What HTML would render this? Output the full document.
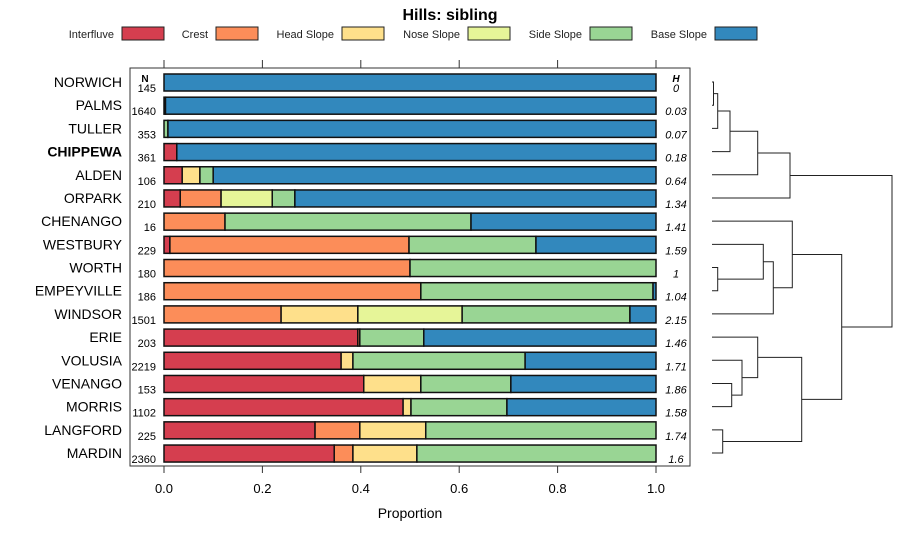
<!DOCTYPE html>
<html><head><meta charset="utf-8">
<style>
body{margin:0;background:#fff;font-family:"Liberation Sans",sans-serif;}
svg text{font-family:"Liberation Sans",sans-serif;}
</style></head>
<body>
<svg id="chart" width="900" height="540" xmlns="http://www.w3.org/2000/svg">
<text x="450" y="20" text-anchor="middle" font-size="16" font-weight="bold">Hills: sibling</text>
<g id="legend"></g>
<rect x="130" y="68" width="560" height="398" fill="none" stroke="#333" stroke-width="1"/>
<g id="axes"></g>
<g id="bars"></g>
<g id="dendro"></g>
<text x="410" y="518" text-anchor="middle" font-size="14">Proportion</text>
<text x="145" y="82" text-anchor="middle" font-size="10" font-weight="bold">N</text>
<text x="676" y="82" text-anchor="middle" font-size="10" font-weight="bold" font-style="italic">H</text>
</svg>
<script>
const seriesNames = ["Interfluve","Crest","Head Slope","Nose Slope","Side Slope","Base Slope"];
const colors = ["#d53e4f","#fc8d59","#fee08b","#e6f598","#99d594","#3288bd"];
const categories = ["NORWICH","PALMS","TULLER","CHIPPEWA","ALDEN","ORPARK","CHENANGO","WESTBURY","WORTH","EMPEYVILLE","WINDSOR","ERIE","VOLUSIA","VENANGO","MORRIS","LANGFORD","MARDIN"];
const nValues = [145,1640,353,361,106,210,16,229,180,186,1501,203,2219,153,1102,225,2360];
const hValues = ["0","0.03","0.07","0.18","0.64","1.34","1.41","1.59","1","1.04","2.15","1.46","1.71","1.86","1.58","1.74","1.6"];
const interfluve = [0,0.003,0,0.026,0.037,0.033,0,0.012,0,0,0,0.394,0.36,0.406,0.486,0.307,0.346];
const crest      = [0,0,0,0,0,0.083,0.124,0.486,0.5,0.522,0.238,0.004,0,0,0,0.091,0.038];
const headSlope  = [0,0,0,0,0.036,0,0,0,0,0,0.156,0,0.024,0.116,0.016,0.134,0.13];
const noseSlope  = [0,0,0,0,0,0.104,0,0,0,0,0.212,0,0,0,0,0,0];
const sideSlope  = [0,0,0.008,0,0.027,0.046,0.5,0.258,0.5,0.472,0.341,0.13,0.35,0.183,0.195,0.468,0.486];
const baseSlope  = [1,0.997,0.992,0.974,0.9,0.734,0.376,0.244,0,0.006,0.053,0.472,0.266,0.295,0.303,0,0];
const xTicks = [0,0.2,0.4,0.6,0.8,1.0];
const xTickLabels = ["0.0","0.2","0.4","0.6","0.8","1.0"];
const merges = [[0,1,1.5],[17,2,5.7],[18,3,18],[19,4,45.7],[20,5,78],
 [8,9,5.7],[7,22,51.3],[23,10,61.3],[6,24,80.3],
 [13,14,19.7],[12,26,30],[11,27,45.7],[15,16,10.7],[28,29,89.7],[25,30,129.7],[21,31,180]];

const NS="http://www.w3.org/2000/svg";
function el(tag,attrs,parent){const e=document.createElementNS(NS,tag);for(const k in attrs)e.setAttribute(k,attrs[k]);parent.appendChild(e);return e;}
const xs = v => 164 + v*492;
const ys = i => 82 + i*23.19;
const dx = h => 712 + h;

const lg=document.getElementById('legend');
const legRectX=[122,216,342,468,590,715];
seriesNames.forEach((n,i)=>{
  const t=el('text',{x:legRectX[i]-8,y:38,'text-anchor':'end','font-size':11,fill:'#222'},lg);t.textContent=n;
  
  
  const r=el('rect',{x:legRectX[i],y:27,width:42,height:13,fill:colors[i],stroke:'#222','stroke-width':1},lg);
  
  
});

const ax=document.getElementById('axes');
xTicks.forEach((v,i)=>{
  el('line',{x1:xs(v),x2:xs(v),y1:60,y2:68,stroke:'#333'},ax);
  el('line',{x1:xs(v),x2:xs(v),y1:466,y2:473,stroke:'#333'},ax);
  const t=el('text',{x:xs(v),y:493,'text-anchor':'middle','font-size':13},ax);t.textContent=xTickLabels[i];
  
  
});

const bg=document.getElementById('bars');
const series=[interfluve,crest,headSlope,noseSlope,sideSlope,baseSlope];
categories.forEach((c,i)=>{
  const y=ys(i);
  const lab=el('text',{x:122,y:y+5,'text-anchor':'end','font-size':14,'font-weight':c==="CHIPPEWA"?'bold':'normal'},bg);lab.textContent=c;
  
  
  const nt=el('text',{x:156,y:y+10,'text-anchor':'end','font-size':11},bg);nt.textContent=nValues[i];
  
  
  const ht=el('text',{x:676,y:y+10,'text-anchor':'middle','font-size':11,'font-style':'italic'},bg);ht.textContent=hValues[i];
  
  
  let cum=0;
  series.forEach((s,k)=>{
    const v=s[i]; if(v<=0) return;
    const r=el('rect',{x:xs(cum),y:y-8,width:xs(cum+v)-xs(cum),height:17,fill:colors[k],stroke:'#111','stroke-width':1.5},bg);
    
    
    cum+=v;
  });
});

const dg=document.getElementById('dendro');
const nodeY=categories.map((c,i)=>ys(i)), nodeH=categories.map(()=>0);
merges.forEach(m=>{
  const [a,b,h]=m;
  const ya=nodeY[a],yb=nodeY[b];
  const p=el('path',{d:`M${dx(nodeH[a])},${ya}H${dx(h)}V${yb}H${dx(nodeH[b])}`,fill:'none',stroke:'#222','stroke-width':1},dg);
  
  
  nodeY.push((ya+yb)/2);nodeH.push(h);
});
</script>
</body></html>
